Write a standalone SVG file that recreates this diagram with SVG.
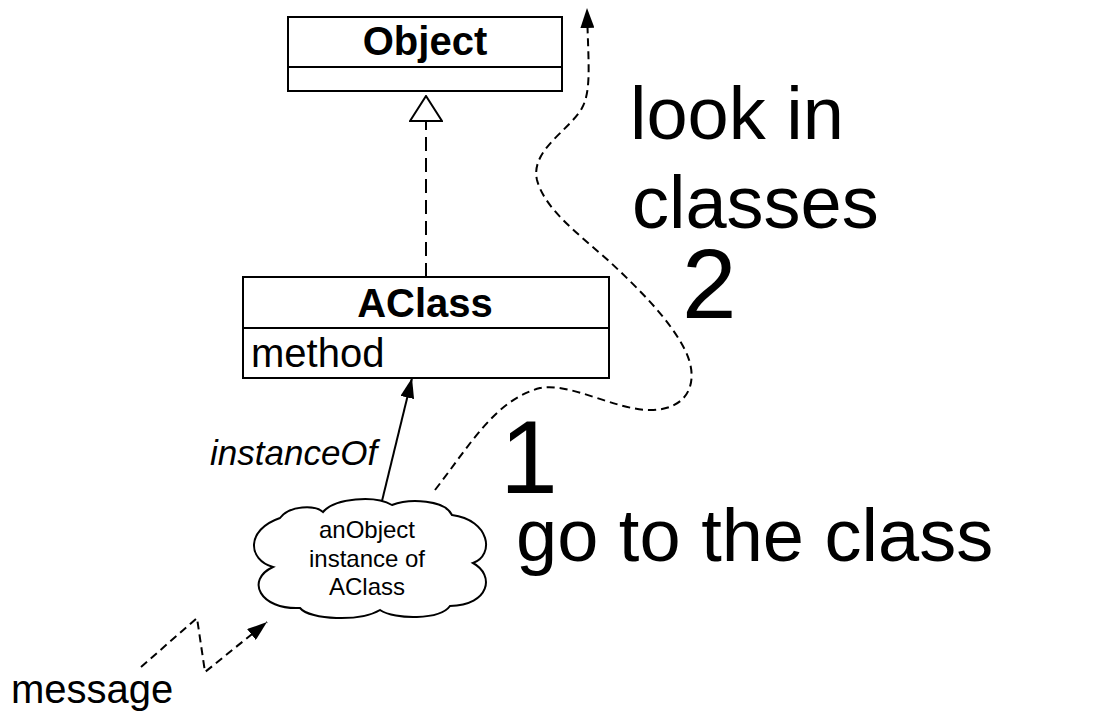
<svg xmlns="http://www.w3.org/2000/svg" width="1095" height="716" viewBox="0 0 1095 716">
<style>
.box{fill:#fff;stroke:#000;stroke-width:2}
.ln{fill:none;stroke:#000;stroke-width:2}
.dsh{fill:none;stroke:#000;stroke-width:2;stroke-dasharray:8 5}
.t{font-family:"Liberation Sans",Arial,sans-serif;fill:#000}
.b{font-weight:bold}
</style>
<defs>
<marker id="fill" viewBox="0 0 20 14" refX="20" refY="7" markerWidth="20" markerHeight="14" markerUnits="userSpaceOnUse" orient="auto">
<path d="M0 0 L20 7 L0 14 Z" fill="#000"/>
</marker>
<marker id="hollow" viewBox="0 0 27 34" refX="26" refY="17" markerWidth="27" markerHeight="34" markerUnits="userSpaceOnUse" orient="auto">
<path d="M1 1 L26 17 L1 33 Z" fill="#fff" stroke="#000" stroke-width="2"/>
</marker>
</defs>
<rect width="1095" height="716" fill="#fff"/>
<g id="connectors">
<path class="ln" d="M426 277 L426 96" stroke-dasharray="14 7" marker-end="url(#hollow)"/>
<path class="ln" d="M381 505 L412 378" marker-end="url(#fill)"/>
<path class="dsh" d="M141 667 L197 618 L205 672 L267 622" marker-end="url(#fill)"/>
<path class="dsh" d="M435 490 C470 445 495 400 540 388 C570 382 615 410 650 410 C690 410 700 380 685 350 C670 320 640 290 610 262 C580 235 545 210 537 180 C530 150 570 130 582 108 C592 90 588 60 587 8" marker-end="url(#fill)"/>
</g>
<g id="Object">
<rect class="box" x="288" y="17" width="274" height="74"/>
<line class="ln" x1="288" y1="67" x2="562" y2="67"/>
<text class="t b" x="425" y="55" font-size="40" text-anchor="middle">Object</text>
</g>
<g id="AClass">
<rect class="box" x="243" y="277" width="366" height="101"/>
<line class="ln" x1="243" y1="328" x2="609" y2="328"/>
<text class="t b" x="425" y="317" font-size="40" text-anchor="middle">AClass</text>
<text class="t" x="251" y="367" font-size="40">method</text>
</g>
<g id="anObject">
<path class="box" d="M273 567 C248 560 245 530 280 518 C290 505 315 505 323 512 C335 498 375 495 392 505 C410 498 445 500 452 515 C490 520 495 555 473 563 C495 575 490 605 450 606 C440 620 395 620 380 610 C360 622 310 620 300 608 C260 610 245 580 273 567 Z"/>
<text class="t" x="367" y="538" font-size="24" text-anchor="middle">anObject</text>
<text class="t" x="367" y="567" font-size="24" text-anchor="middle">instance of</text>
<text class="t" x="367" y="595" font-size="24" text-anchor="middle">AClass</text>
</g>
<g id="labels">
<text class="t" x="210" y="465" font-size="35" font-style="italic">instanceOf</text>
<text class="t" x="11" y="703" font-size="40">message</text>
<text class="t" x="630" y="139" font-size="74">look in</text>
<text class="t" x="632" y="228" font-size="74">classes</text>
<text class="t" x="682" y="318" font-size="98">2</text>
<text class="t" x="500" y="493" font-size="104">1</text>
<text class="t" x="516" y="561" font-size="74">go to the class</text>
</g>
</svg>
